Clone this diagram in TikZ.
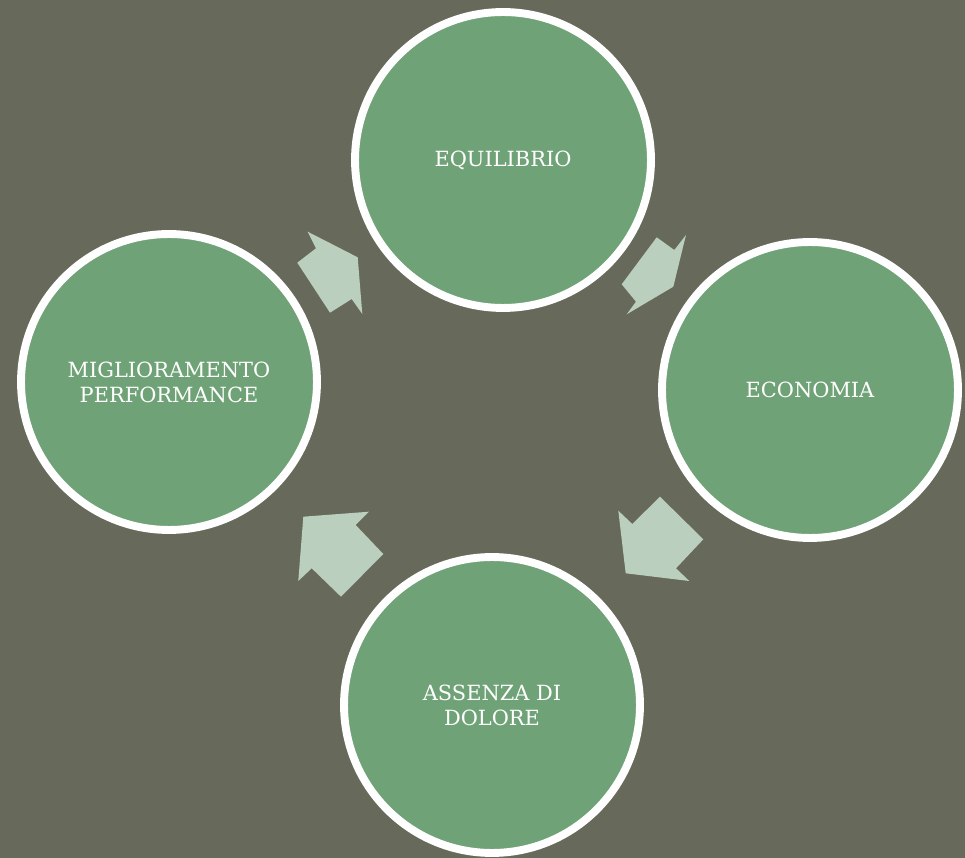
\documentclass[tikz,border=0pt]{standalone}
\usepackage{fontspec}
\setmainfont{DejaVu Serif}
\usepackage{tikz}
\definecolor{backdrop}{HTML}{676A5A}
\definecolor{leaf}{HTML}{6FA276}
\definecolor{mint}{HTML}{BACFBE}

\begin{document}
\begin{tikzpicture}[
  x=0.02cm, y=-0.02cm,
  stage/.style = {circle, fill=leaf, draw=white, line width=4.5pt, minimum size=5.92cm,
                  text=white, align=center, font=\fontsize{11.9}{14.3}\selectfont},
  arr/.style = {fill=mint},
]
  \fill[backdrop] (0,0) rectangle (965,858);
  \useasboundingbox (0,0) rectangle (965,858);

  \node[stage] (equil)  at (503,160) {EQUILIBRIO};
  \node[stage] (econ)   at (810,390) {ECONOMIA};
  \node[stage] (dolore) at (492,705) {ASSENZA DI\\DOLORE};
  \node[stage] (perf)   at (169,382) {MIGLIORAMENTO\\PERFORMANCE};

  \fill[arr] (297.3,262.7) -- (316,248.3) -- (307.7,231.7) -- (357.7,257.3)
             -- (362.3,314) -- (351.7,299) -- (330,312.7) -- cycle;
  \fill[arr] (656.7,237.3) -- (674.3,250) -- (686,235) -- (673.3,286.7)
             -- (626.7,314.3) -- (636,301.7) -- (621.7,284.3) -- cycle;
  \fill[arr] (660,496.7) -- (703.3,539.3) -- (676,568.3) -- (689.3,581)
             -- (625.7,573.3) -- (618.3,510.7) -- (632.3,524) -- cycle;
  \fill[arr] (369,511.7) -- (355.7,525) -- (383.3,554) -- (341,596.7)
             -- (311.7,568.3) -- (298.3,581) -- (303.3,516.7) -- cycle;
\end{tikzpicture}
\end{document}
